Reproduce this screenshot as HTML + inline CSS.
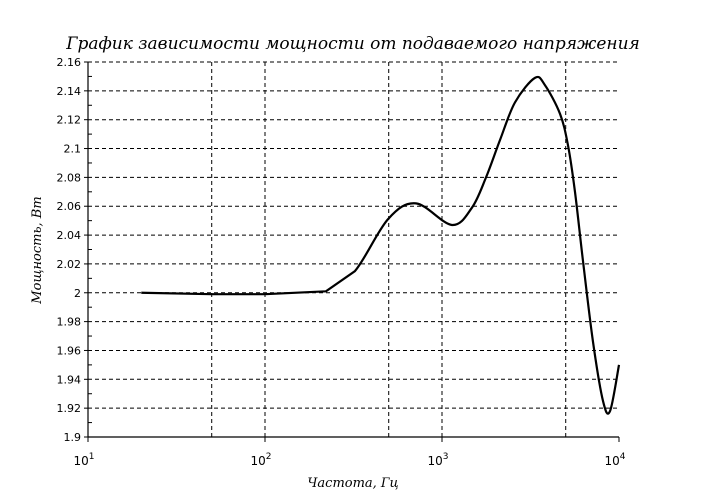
<!DOCTYPE html>
<html><head><meta charset="utf-8"><style>
body{margin:0;background:#fff;}
svg{display:block;font-family:"DejaVu Sans","Liberation Sans",sans-serif;}
</style></head><body>
<svg width="707" height="501" xmlns="http://www.w3.org/2000/svg">
<text x="353" y="49" text-anchor="middle" font-family="DejaVu Serif, Liberation Serif, serif" font-style="italic" font-size="17">График зависимости мощности от подаваемого напряжения</text>
<g id="grid"></g><g id="axes"></g><g id="series"></g>
<text x="353" y="487" text-anchor="middle" font-family="DejaVu Serif, Liberation Serif, serif" font-style="italic" font-size="13">Частота, Гц</text>
<text transform="translate(41,250) rotate(-90)" text-anchor="middle" font-family="DejaVu Serif, Liberation Serif, serif" font-style="italic" font-size="13">Мощность, Вт</text>
</svg>
<script>
const freqs=[20,50,100,221,322,495,713,1138,1476,1773,2128,2585,3350,3815,4645,5155,5640,6260,7130,8120,8900,10000];
const power=[2.0,1.999,1.999,2.001,2.015,2.051,2.062,2.047,2.059,2.08,2.106,2.132,2.149,2.144,2.124,2.102,2.07,2.022,1.966,1.925,1.918,1.95];
const yTicks=[1.9,1.92,1.94,1.96,1.98,2,2.02,2.04,2.06,2.08,2.1,2.12,2.14,2.16];
const yTickLabels=["1.9","1.92","1.94","1.96","1.98","2","2.02","2.04","2.06","2.08","2.1","2.12","2.14","2.16"];
const xDecades=[1,2,3,4];
const xGrid=[50,100,500,1000,5000];
const X0=88,X1=619,Y0=437,Y1=62;
const xs=f=>X0+(Math.log10(f)-1)/3*(X1-X0);
const ys=v=>Y0-(v-1.9)/0.26*(Y0-Y1);
const NS="http://www.w3.org/2000/svg";
function mk(p,t,a){const e=document.createElementNS(NS,t);for(const k in a)e.setAttribute(k,a[k]);p.appendChild(e);return e;}
const grid=document.getElementById('grid'),axes=document.getElementById('axes'),ser=document.getElementById('series');
yTicks.forEach((v,i)=>{const y=ys(v);
 if(i>0){const l=mk(grid,'line',{x1:X0,x2:X1,y1:y,y2:y,stroke:'#000','stroke-width':1,'stroke-dasharray':'4,3'});
 
 }
 mk(axes,'line',{x1:X0-4,x2:X0,y1:y,y2:y,stroke:'#000'});
 if(i<yTicks.length-1){const ym=ys(v+0.01);mk(axes,'line',{x1:X0,x2:X0+4,y1:ym,y2:ym,stroke:'#000'});}
 const t=mk(axes,'text',{x:X0-7,y:y+4,'text-anchor':'end','font-size':11});t.textContent=yTickLabels[i];
 
 
});
xGrid.forEach(f=>{const x=xs(f);const l=mk(grid,'line',{x1:x,x2:x,y1:Y1,y2:Y0,stroke:'#000','stroke-dasharray':'4,3'});
 
 });
xDecades.forEach(d=>{const x=xs(Math.pow(10,d));
 mk(axes,'line',{x1:x,x2:x,y1:Y0,y2:Y0+5,stroke:'#000'});
 if(d<4)mk(axes,'line',{x1:x,x2:x,y1:Y0,y2:Y0-3,stroke:'#000'});
 const t=mk(axes,'text',{x:x-4,y:465,'text-anchor':'middle','font-size':12});
 t.textContent='10';
 const s=mk(t,'tspan',{dy:-6,'font-size':9});s.textContent=String(d);
 
 
});
mk(axes,'line',{x1:X0,x2:X0,y1:Y1,y2:Y0,stroke:'#000','stroke-width':1.2});
mk(axes,'line',{x1:X0,x2:X1,y1:Y0,y2:Y0,stroke:'#000','stroke-width':1.2});
const P=freqs.map((f,i)=>[xs(f),ys(power[i])]);
let d='M'+P[0][0]+','+P[0][1];
for(let i=0;i<P.length-1;i++){const p0=P[Math.max(0,i-1)],p1=P[i],p2=P[i+1],p3=P[Math.min(P.length-1,i+2)];
 const k=i<4?0:1/6;
 d+=' C'+(p1[0]+(p2[0]-p0[0])*k)+','+(p1[1]+(p2[1]-p0[1])*k)+' '+(p2[0]-(p3[0]-p1[0])*k)+','+(p2[1]-(p3[1]-p1[1])*k)+' '+p2[0]+','+p2[1];}
const path=mk(ser,'path',{d:d,fill:'none',stroke:'#000','stroke-width':2.2});


</script>
</body></html>
